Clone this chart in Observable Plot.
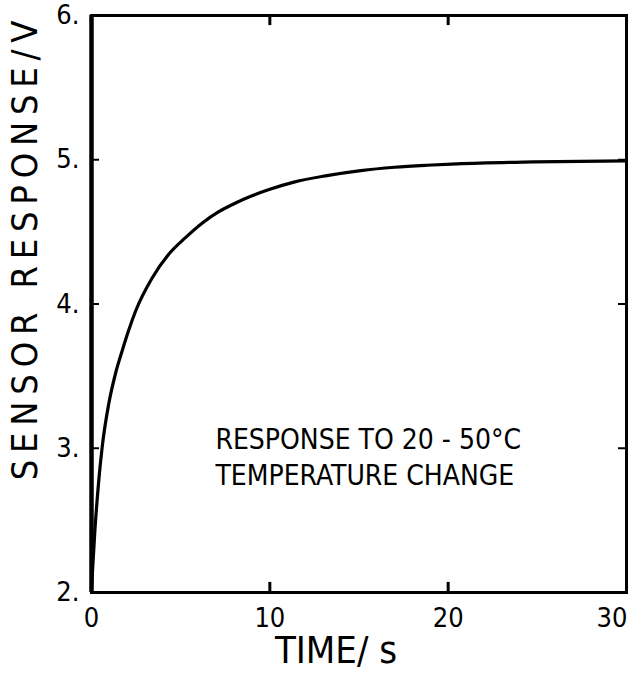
<!DOCTYPE html>
<html>
<head>
<meta charset="utf-8">
<script src="https://cdn.jsdelivr.net/npm/d3@7"></script>
<script src="https://cdn.jsdelivr.net/npm/@observablehq/plot@0.6"></script>
<style>
  html, body { margin: 0; padding: 0; background: #fff; }
</style>
</head>
<body>
<div id="chart"></div>
<script>
// Data
const time =     [0, 0.19, 0.41, 0.6, 0.97, 1.35, 1.73, 2.09, 2.47, 3.4, 4.33, 5.27, 6.2, 7.14, 8.08, 9.0, 10.0, 11.35, 13.2, 15.1, 17.0, 18.8, 20.5, 24.8, 30];
const response = [2.03, 2.43, 2.78, 3.01, 3.31, 3.52, 3.68, 3.82, 3.95, 4.18, 4.345, 4.46, 4.56, 4.64, 4.70, 4.75, 4.795, 4.845, 4.89, 4.925, 4.948, 4.962, 4.972, 4.985, 4.992];

const xTickLabels = [0, 10, 20];
const xLastTickLabel = [30];
const yTickLabels = [2, 3, 4, 5, 6];
const xInnerTicks = [10, 20];
const yInnerTicks = [3, 4, 5];

const xTitle = "TIME/ s";
const yTitle = "SENSOR RESPONSE/V";
const noteLines = ["RESPONSE TO 20 - 50°C", "TEMPERATURE CHANGE"];
const noteAt = {t: 6.95, v: 2.95};

const data = time.map((t, i) => ({t, v: response[i]}));
const font = "'Liberation Sans Narrow', 'DejaVu Sans Condensed', 'Arial Narrow', sans-serif";

const chart = Plot.plot({
  width: 629,
  height: 681,
  marginLeft: 91,
  marginRight: 3,
  marginTop: 15,
  marginBottom: 89,
  style: {fontFamily: font, background: "#fff", color: "#000"},
  x: {domain: [0, 30]},
  y: {domain: [2, 6]},
  marks: [
    Plot.axisX(xTickLabels, {tickSize: 0, tickPadding: 15, fontSize: 27, label: null}),
    Plot.axisX(xLastTickLabel, {tickSize: 0, tickPadding: 15, fontSize: 27, label: null, textAnchor: "end", dx: 1}),
    Plot.axisY({ticks: yTickLabels, tickSize: 0, tickPadding: 12, fontSize: 27, label: null, tickFormat: d => d + "."}),
    // inward ticks
    Plot.ruleX(xInnerTicks, {x: d => d, y1: 2, y2: 2.07, stroke: "#000", strokeWidth: 3}),
    Plot.ruleX(xInnerTicks, {x: d => d, y1: 6, y2: 5.93, stroke: "#000", strokeWidth: 3}),
    Plot.ruleY(yInnerTicks, {y: d => d, x1: 0, x2: 0.45, stroke: "#000", strokeWidth: 2}),
    Plot.ruleY(yInnerTicks, {y: d => d, x1: 30, x2: 29.55, stroke: "#000", strokeWidth: 2}),
    Plot.frame({stroke: "#000", strokeWidth: 3}),
    Plot.ruleX([0], {stroke: "#000", strokeWidth: 4.5}),
    Plot.line(data, {x: "t", y: "v", stroke: "#000", strokeWidth: 3.2, curve: "monotone-x"}),
    Plot.text([noteLines.join("\n")], {x: () => noteAt.t, y: () => noteAt.v, text: d => d, textAnchor: "start", lineAnchor: "middle", lineHeight: 1.3, fontSize: 28, fill: "#000"}),
    Plot.text([xTitle], {frameAnchor: "bottom", textAnchor: "middle", dy: 70, dx: -23, fontSize: 38, fill: "#000"}),
    Plot.text([yTitle], {frameAnchor: "left", textAnchor: "middle", lineAnchor: "middle", rotate: -90, dx: -66, dy: -57, fontSize: 36, fill: "#000"})
  ]
});
d3.select(chart).selectAll("text")
  .filter(function() { return this.textContent === yTitle; })
  .style("letter-spacing", "6.8px");
document.getElementById("chart").appendChild(chart);
</script>
</body>
</html>
